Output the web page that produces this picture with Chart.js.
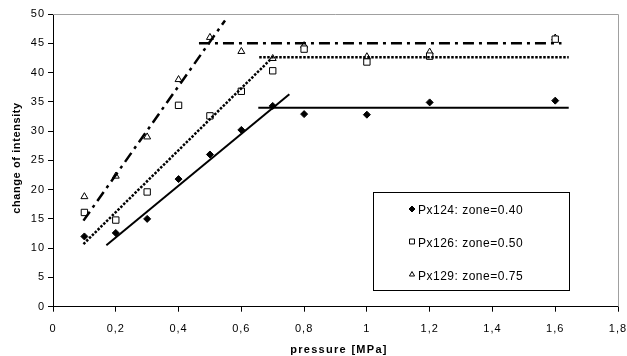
<!DOCTYPE html>
<html>
<head>
<meta charset="utf-8">
<script src="https://cdn.jsdelivr.net/npm/chart.js@4"></script>
<style>
html,body{margin:0;padding:0;background:#fff;}
#wrap{width:627px;height:356px;position:relative;}
</style>
</head>
<body>
<div id="wrap"><canvas id="c" width="627" height="356"></canvas></div>
<script>
const pressure = [0.1, 0.2, 0.3, 0.4, 0.5, 0.6, 0.7, 0.8, 1.0, 1.2, 1.6];
const px124 = [12.0, 12.6, 15.0, 21.8, 26.0, 30.2, 34.3, 32.9, 32.8, 34.9, 35.2];
const px126 = [16.1, 14.8, 19.6, 34.4, 32.6, 36.8, 40.3, 44.0, 41.8, 42.8, 45.7];
const px129 = [18.8, 22.3, 29.0, 38.8, 46.0, 43.6, 42.4, 44.6, 42.7, 43.5, 45.9];
const seriesNames = ['Px124: zone=0.40', 'Px126: zone=0.50', 'Px129: zone=0.75'];
// trend lines [x1, y1, x2, y2]
const trend124Rise = [0.17, 10.5, 0.753, 36.3];
const trend124Flat = [0.654, 34.0, 1.643, 34.0];
const trend126Rise = [0.097, 10.7, 0.696, 42.4];
const trend126Flat = [0.657, 42.6, 1.643, 42.6];
const trend129Rise = [0.097, 14.7, 0.548, 48.9];
const trend129Flat = [0.465, 45.0, 1.62, 45.0];
const xTickLabels = ['0', '0,2', '0,4', '0,6', '0,8', '1', '1,2', '1,4', '1,6', '1,8'];
const yTickLabels = ['0', '5', '10', '15', '20', '25', '30', '35', '40', '45', '50'];
const xTitle = 'pressure [MPa]';
const yTitle = 'change of intensity';

const FONT = '"Liberation Sans", Arial, sans-serif';
const pts = (ys) => pressure.map((x, i) => ({x: x, y: ys[i]}));
const seg = (t) => [{x: t[0], y: t[1]}, {x: t[2], y: t[3]}];

const lineDs = (t, dash, w) => ({
  data: seg(t), showLine: true, borderColor: '#000', borderWidth: w,
  borderDash: dash, pointRadius: 0, pointHoverRadius: 0, fill: false
});

const datasets = [
  lineDs(trend124Rise, [], 2),
  lineDs(trend124Flat, [], 2),
  lineDs(trend126Rise, [2.5, 1.5], 2.5),
  lineDs(trend126Flat, [2.5, 1.5], 2.5),
  lineDs(trend129Rise, [11, 5, 3, 5], 2.5),
  lineDs(trend129Flat, [11, 5, 3, 5], 2.5),
  {label: seriesNames[0], data: pts(px124), showLine: false, pointStyle: 'rectRot',
   pointRadius: 3.5, backgroundColor: '#000', borderColor: '#000', borderWidth: 1},
  {label: seriesNames[1], data: pts(px126), showLine: false, pointStyle: 'rect',
   pointRadius: 4.5, backgroundColor: '#fff', borderColor: '#000', borderWidth: 1},
  {label: seriesNames[2], data: pts(px129), showLine: false, pointStyle: 'triangle',
   pointRadius: 4, backgroundColor: '#fff', borderColor: '#000', borderWidth: 1}
];

const spacing = {
  id: 'spacing',
  beforeDraw(chart) { chart.ctx.letterSpacing = '1px'; }
};

const frame = {
  id: 'frame',
  afterDatasetsDraw(chart) {
    const {ctx, chartArea: a} = chart;
    ctx.save();
    ctx.strokeStyle = '#a0a0a0';
    ctx.lineWidth = 1;
    ctx.beginPath();
    ctx.moveTo(a.left, a.top + 0.5);
    ctx.lineTo(a.right + 0.5, a.top + 0.5);
    ctx.lineTo(a.right + 0.5, a.bottom);
    ctx.stroke();
    // legend box
    const lx = 373.5, ly = 192.5, lw = 196, lh = 98;
    ctx.fillStyle = '#fff';
    ctx.fillRect(lx, ly, lw, lh);
    ctx.strokeStyle = '#000';
    ctx.strokeRect(lx, ly, lw, lh);
    ctx.font = '12px ' + FONT;
    ctx.letterSpacing = '0.5px';
    ctx.textBaseline = 'middle';
    ctx.textAlign = 'left';
    const rows = [211, 243.5, 276.5];
    const styles = [
      {s: 'rectRot', r: 3, fill: '#000'},
      {s: 'rect', r: 3.5, fill: '#fff'},
      {s: 'triangle', r: 3, fill: '#fff'}
    ];
    for (let i = 0; i < 3; i++) {
      ctx.fillStyle = styles[i].fill;
      ctx.strokeStyle = '#000';
      ctx.lineWidth = 1;
      Chart.helpers.drawPoint(ctx, {pointStyle: styles[i].s, radius: styles[i].r, borderWidth: 1}, 412, rows[i] - 2);
      ctx.fillStyle = '#000';
      ctx.fillText(seriesNames[i], 418, rows[i]);
    }
    // axis titles
    ctx.font = 'bold 11px ' + FONT;
    ctx.fillStyle = '#000';
    ctx.textAlign = 'center';
    ctx.letterSpacing = '1.3px';
    ctx.fillText(xTitle, 339, 350);
    ctx.save();
    ctx.translate(17, 158);
    ctx.rotate(-Math.PI / 2);
    ctx.letterSpacing = '0.6px';
    ctx.fillText(yTitle, 0, 0);
    ctx.restore();
    ctx.restore();
  }
};

new Chart(document.getElementById('c'), {
  type: 'scatter',
  data: {datasets: datasets},
  options: {
    responsive: false,
    animation: false,
    devicePixelRatio: 1,
    layout: {padding: {left: 0, right: 9, top: 14, bottom: 0}},
    plugins: {legend: {display: false}, tooltip: {enabled: false}},
    scales: {
      x: {
        type: 'linear', min: 0, max: 1.8,
        afterFit(s) { s.height = 49.3; s.paddingRight = 0; s.paddingLeft = 0; },
        ticks: {
          stepSize: 0.2, color: '#000', padding: 11,
          font: {family: FONT, size: 11},
          callback: (v, i) => xTickLabels[i]
        },
        grid: {drawOnChartArea: false, drawTicks: true, tickLength: 5, color: '#000'},
        border: {color: '#000', width: 1}
      },
      y: {
        type: 'linear', min: 0, max: 50,
        afterFit(s) { s.width = 53; s.paddingTop = 0; s.paddingBottom = 0; },
        ticks: {
          stepSize: 5, color: '#000', padding: 3,
          font: {family: FONT, size: 11},
          callback: (v, i) => yTickLabels[i]
        },
        grid: {drawOnChartArea: false, drawTicks: true, tickLength: 5, color: '#000'},
        border: {color: '#000', width: 1}
      }
    }
  },
  plugins: [spacing, frame]
});
</script>
</body>
</html>
